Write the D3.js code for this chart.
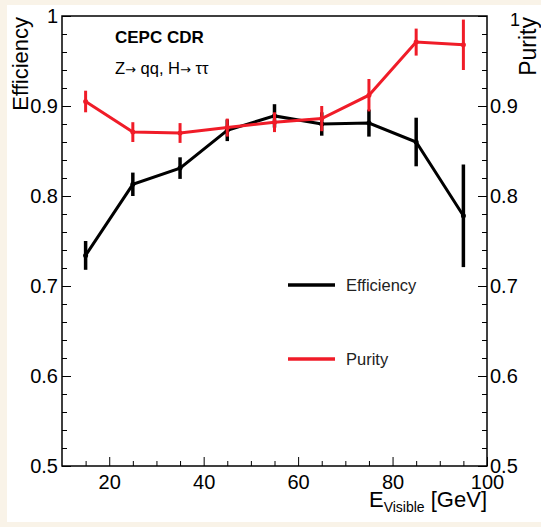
<!DOCTYPE html>
<html>
<head>
<meta charset="utf-8">
<script src="https://cdn.jsdelivr.net/npm/d3@7"></script>
<style>
  body { margin: 0; background: #f9f3e8; }
  svg { display: block; font-family: "Liberation Sans", Arial, sans-serif; }
</style>
</head>
<body>
<script>
// chart values
const energyBins = [15, 25, 35, 45, 55, 65, 75, 85, 95]
const efficiency = [0.734, 0.813, 0.831, 0.873, 0.889, 0.880, 0.881, 0.860, 0.778]
const efficiencyErr = [0.016, 0.013, 0.012, 0.012, 0.013, 0.013, 0.015, 0.027, 0.057]
const purity = [0.905, 0.871, 0.870, 0.876, 0.882, 0.886, 0.912, 0.971, 0.968]
const purityErr = [0.012, 0.011, 0.011, 0.010, 0.011, 0.014, 0.018, 0.015, 0.028]

const xTickLabels = [20, 40, 60, 80, 100]
const xMinorTicks = [15, 25, 30, 35, 45, 50, 55, 65, 70, 75, 85, 90, 95]
const yTickLabels = [0.5, 0.6, 0.7, 0.8, 0.9, 1]

const W = 541, H = 527
const margin = {top: 16, right: 54, bottom: 61, left: 62}

const svg = d3.select("body").append("svg")
    .attr("width", W)
    .attr("height", H)

// white panel inside the beige border
svg.append("rect")
    .attr("x", 7).attr("y", 5)
    .attr("width", W - 7).attr("height", 517)
    .attr("fill", "white")

const x = d3.scaleLinear().domain([10, 100]).range([margin.left, W - margin.right])
const y = d3.scaleLinear().domain([0.5, 1]).range([H - margin.bottom, margin.top])

const yMinor = d3.range(0.52, 1, 0.02).filter(v => Math.abs(v * 10 - Math.round(v * 10)) > 0.01)

function styleAxis(g) {
    g.select(".domain").remove()
    g.selectAll("line").attr("stroke", "black").attr("stroke-width", 1)
    g.selectAll("text").attr("fill", "black").style("font-size", "20px")
        .style("font-family", "'Liberation Sans', Arial, sans-serif")
}

// bottom axis
svg.append("g")
    .attr("transform", `translate(0, ${y(0.5)})`)
    .call(d3.axisBottom(x).tickValues(xTickLabels).tickSize(-9).tickPadding(9))
    .call(styleAxis)
svg.append("g")
    .attr("transform", `translate(0, ${y(0.5)})`)
    .call(d3.axisBottom(x).tickValues(xMinorTicks).tickSize(-5).tickFormat(""))
    .call(styleAxis)

// left axis
svg.append("g")
    .attr("transform", `translate(${x(10)}, 0)`)
    .call(d3.axisLeft(y).tickValues(yTickLabels).tickSize(-9).tickPadding(4).tickFormat(d => d))
    .call(styleAxis)
svg.append("g")
    .attr("transform", `translate(${x(10)}, 0)`)
    .call(d3.axisLeft(y).tickValues(yMinor).tickSize(-5).tickFormat(""))
    .call(styleAxis)

// right axis (ROOT pushes the top "1" label aside)
const right = svg.append("g")
    .attr("transform", `translate(${x(100)}, 0)`)
    .call(d3.axisRight(y).tickValues(yTickLabels).tickSize(-9).tickPadding(3).tickFormat(d => d))
    .call(styleAxis)
right.selectAll(".tick").filter(d => d === 1).select("text")
    .attr("dx", 20).attr("dy", "0.5em").style("font-size", "18px")
svg.append("g")
    .attr("transform", `translate(${x(100)}, 0)`)
    .call(d3.axisRight(y).tickValues(yMinor).tickSize(-5).tickFormat(""))
    .call(styleAxis)

// frame
svg.append("rect")
    .attr("x", x(10)).attr("y", y(1))
    .attr("width", x(100) - x(10)).attr("height", y(0.5) - y(1))
    .attr("fill", "none").attr("stroke", "black").attr("stroke-width", 1.5)

// series
const series = [
    {name: "Efficiency", values: efficiency, errors: efficiencyErr, color: "black", barWidth: 3.5},
    {name: "Purity", values: purity, errors: purityErr, color: "#f01c28", barWidth: 3}
]

const line = d3.line()
    .x(d => x(d.e))
    .y(d => y(d.v))

series.forEach(s => {
    const pts = energyBins.map((e, i) => ({e: e, v: s.values[i], err: s.errors[i]}))
    const g = svg.append("g")
    g.append("path")
        .attr("d", line(pts))
        .attr("fill", "none")
        .attr("stroke", s.color)
        .attr("stroke-width", 3)
    g.selectAll("line.err")
        .data(pts)
        .enter()
        .append("line")
        .attr("class", "err")
        .attr("x1", d => x(d.e)).attr("x2", d => x(d.e))
        .attr("y1", d => y(d.v - d.err)).attr("y2", d => y(d.v + d.err))
        .attr("stroke", s.color)
        .attr("stroke-width", s.barWidth)
    g.selectAll("circle")
        .data(pts)
        .enter()
        .append("circle")
        .attr("cx", d => x(d.e)).attr("cy", d => y(d.v))
        .attr("r", 2.5)
        .attr("fill", s.color)
})

// legend
const legend = svg.append("g")
series.forEach((s, i) => {
    const ly = 285 + i * 74
    legend.append("line")
        .attr("x1", 288).attr("x2", 335)
        .attr("y1", ly).attr("y2", ly)
        .attr("stroke", s.color).attr("stroke-width", 3.5)
    legend.append("text")
        .text(s.name)
        .attr("x", 346).attr("y", ly)
        .attr("dy", "0.35em")
        .style("font-size", "16.5px")
        .attr("fill", "#222")
})

// labels
svg.append("text")
    .text("CEPC CDR")
    .attr("x", 115).attr("y", 43)
    .style("font-size", "17px").style("font-weight", "bold")
const proc = svg.append("text")
    .attr("x", 115).attr("y", 74)
    .style("font-size", "16.5px")
proc.append("tspan").text("Z")
proc.append("tspan").text("\u2192").style("font-family", "'DejaVu Sans'").style("font-size", "13px")
proc.append("tspan").text(" qq, H")
proc.append("tspan").text("\u2192").style("font-family", "'DejaVu Sans'").style("font-size", "13px")
proc.append("tspan").text(" \u03c4\u03c4")

svg.append("text")
    .text("Efficiency")
    .attr("transform", "translate(28, 17) rotate(-90)")
    .attr("text-anchor", "end")
    .style("font-size", "22px")
svg.append("text")
    .text("Purity")
    .attr("transform", "translate(536, 17) rotate(-90)")
    .attr("text-anchor", "end")
    .style("font-size", "23px")

const xl = svg.append("text")
    .attr("x", x(100)).attr("y", 507)
    .attr("text-anchor", "end")
    .style("font-size", "22px")
xl.append("tspan").text("E")
xl.append("tspan").text("Visible").attr("dy", 5).style("font-size", "14px")
xl.append("tspan").text(" [GeV]").attr("dy", -5)
</script>
</body>
</html>
